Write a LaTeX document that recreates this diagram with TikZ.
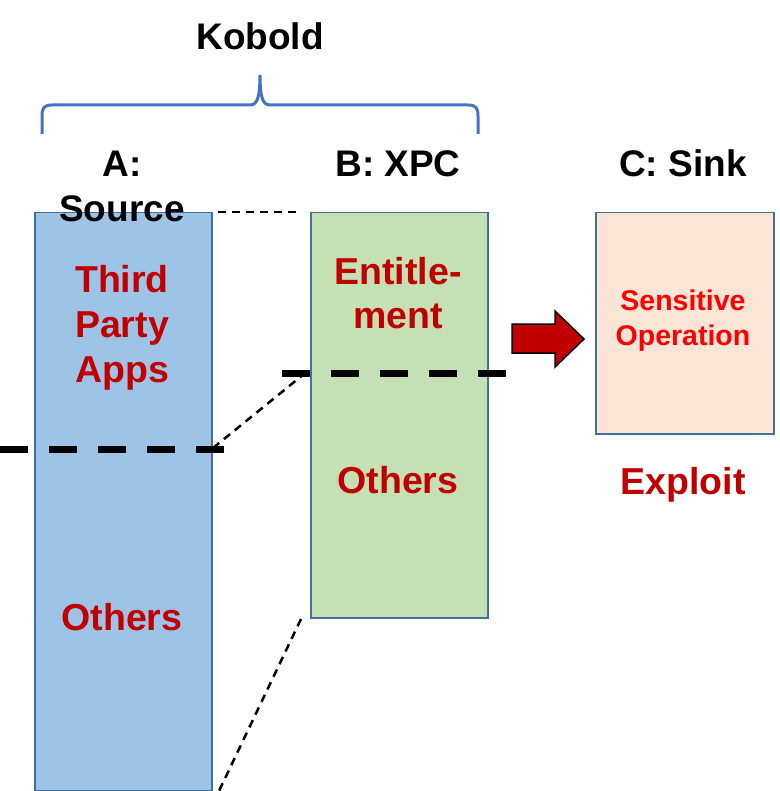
\documentclass[tikz,border=0pt]{standalone}
\usepackage{fontspec}
\setmainfont{Liberation Sans}
\definecolor{fillA}{HTML}{9DC3E6}
\definecolor{fillB}{HTML}{C5E0B4}
\definecolor{fillC}{HTML}{FBE5D6}
\definecolor{edge}{HTML}{41719C}
\definecolor{darkred}{HTML}{C00000}
\definecolor{brightred}{HTML}{FF0000}
\definecolor{bracecol}{HTML}{4472C4}
\tikzset{
  column/.style={draw=edge, line width=1.5pt, inner sep=0pt, anchor=north west},
  title/.style={font=\fontsize{37}{45}\selectfont\bfseries, text=black, anchor=base, align=center, inner sep=0pt},
  redtext/.style={font=\fontsize{37.5}{45}\selectfont\bfseries, text=darkred, anchor=base, align=center, inner sep=0pt},
  smallred/.style={font=\fontsize{28.5}{35}\selectfont\bfseries, text=brightred, anchor=base, align=center, inner sep=0pt},
  thickdash/.style={line width=7pt, dash pattern=on 28pt off 21pt},
  thindash/.style={line width=2.5pt, dash pattern=on 8pt off 6pt},
}
\begin{document}
\begin{tikzpicture}[x=1pt, y=-1pt]
\useasboundingbox (0,0) rectangle (779,791);
% columns
\node[column, fill=fillA, minimum width=177pt, minimum height=578pt] (colA) at (34,212) {};
\node[column, fill=fillB, minimum width=177pt, minimum height=405pt] (colB) at (310,212) {};
\node[column, fill=fillC, minimum width=178pt, minimum height=221pt] (colC) at (595,212) {};
% brace
\draw[bracecol, line width=3pt]
  (42,134) -- (42,116) .. controls (42,108) and (44,105) .. (52,105)
  -- (250,105) .. controls (257,105) and (260,98) .. (260,75)
  .. controls (260,98) and (263,105) .. (270,105)
  -- (468,105) .. controls (476,105) and (478,108) .. (478,116) -- (478,134);
\node[title] (kobold) at (260,50) {Kobold};
% titles (anchor base = baseline of last line)
\node[title] (titleA) at (122,222) {A:\\Source};
\node[title] (titleB) at (398,177) {B: XPC};
\node[title] (titleC) at (683,177) {C: Sink};
% texts
\node[redtext] (third) at (122,382) {Third\\Party\\Apps};
\node[redtext] (othersA) at (122,630) {Others};
\node[redtext, font=\fontsize{37.5}{44}\selectfont\bfseries] (entitle) at (398,328) {Entitle-\\ment};
\node[redtext] (othersB) at (398,493) {Others};
\node[smallred] (sensitive) at (683,345) {Sensitive\\Operation};
\node[redtext] (exploit) at (683,494) {Exploit};
% thick dashed lines
\coordinate (dA1) at (0,449);
\coordinate (dA2) at (226,449);
\coordinate (dB1) at (282,373);
\coordinate (dB2) at (507,373);
\draw[thickdash] (dA1) -- (dA2);
\draw[thickdash] (dB1) -- (dB2);
% thin dashed connectors
\coordinate (t1) at (218,212);
\coordinate (t2) at (296,212);
\coordinate (m1) at (213,448);
\coordinate (m2) at (304,374);
\coordinate (b1) at (301,619);
\coordinate (b2) at (219,791);
\draw[thindash] (t1) -- (t2);
\draw[thindash] (m1) -- (m2);
\draw[thindash] (b1) -- (b2);
% block arrow
\node[inner sep=0pt] (arrowtip) at (584,339) {};
\draw[fill=darkred, draw=black, line width=1.5pt, line join=miter]
  (512,324) -- (555,324) -- (555,311) -- (arrowtip.center) -- (555,367) -- (555,353) -- (512,353) -- cycle;
\end{tikzpicture}
\end{document}
